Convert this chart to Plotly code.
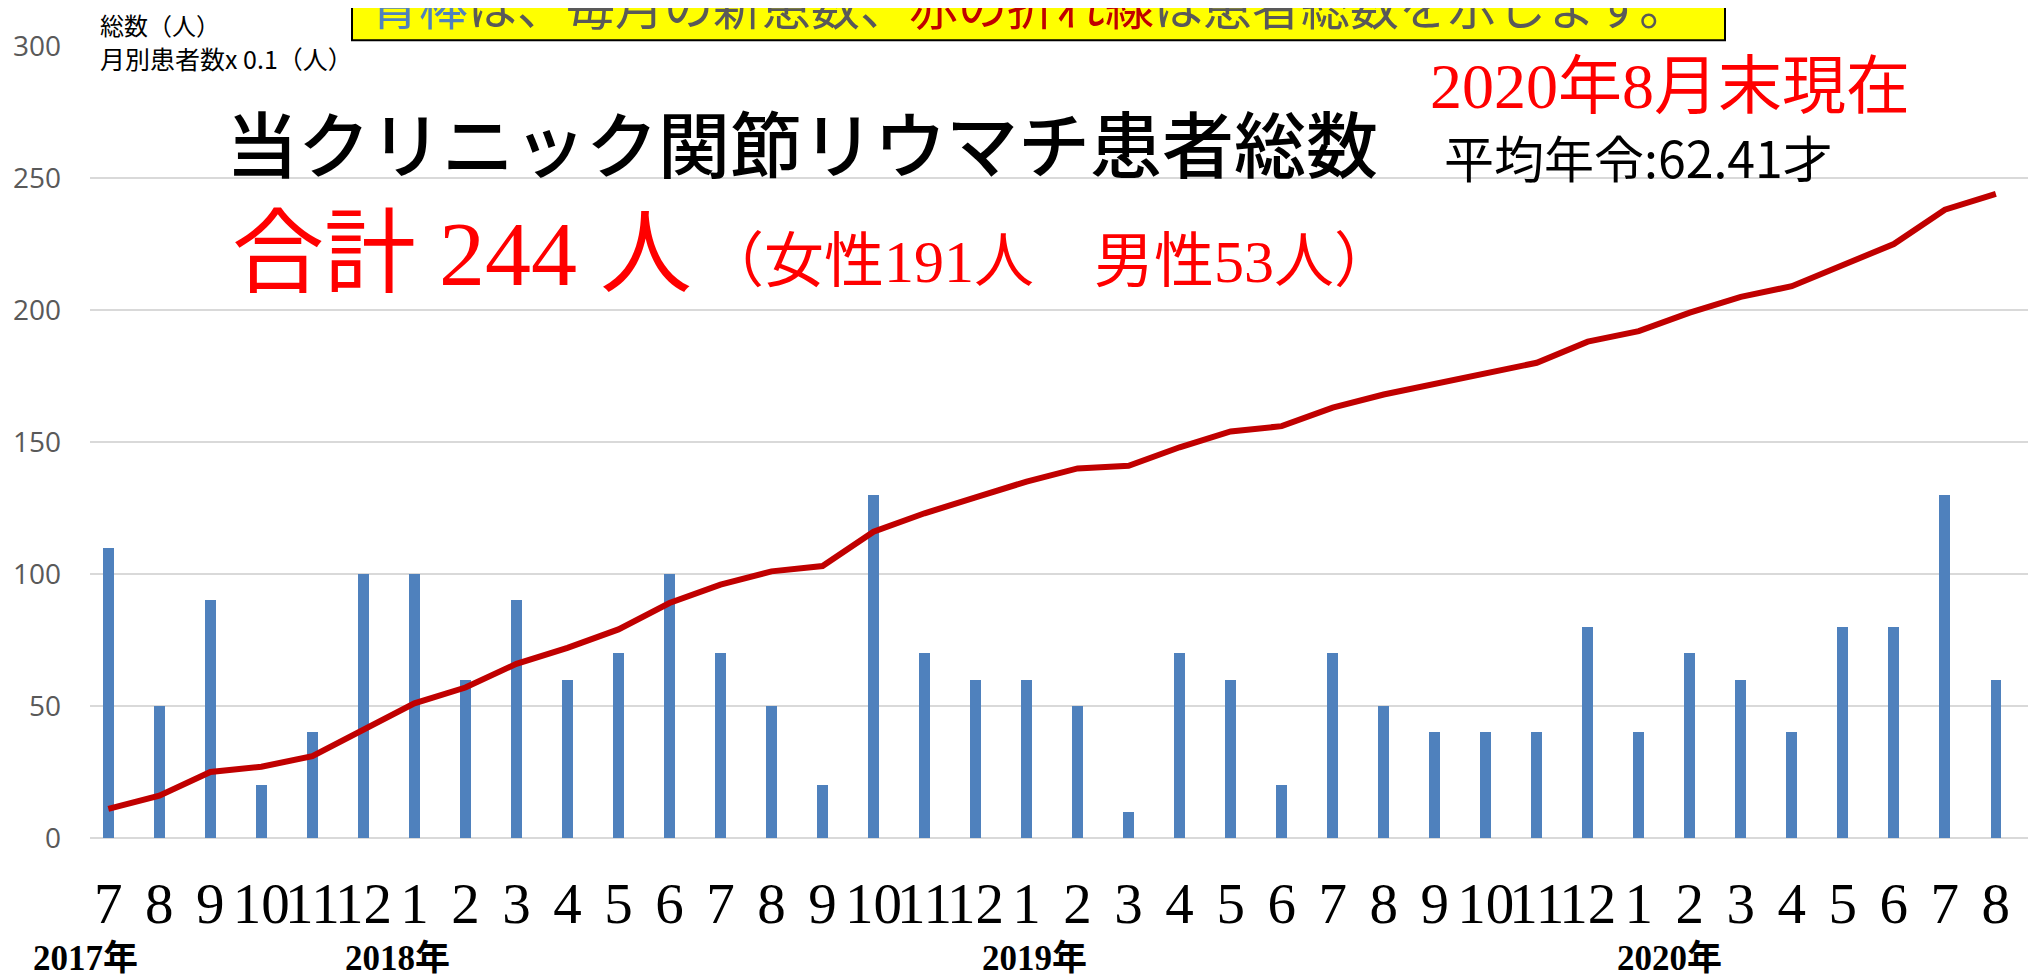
import plotly.graph_objects as go

# ---- data ----
months = ["7", "8", "9", "10", "11", "12",
          "1", "2", "3", "4", "5", "6", "7", "8", "9", "10", "11", "12",
          "1", "2", "3", "4", "5", "6", "7", "8", "9", "10", "11", "12",
          "1", "2", "3", "4", "5", "6", "7", "8"]
monthly_x10 = [110, 50, 90, 20, 40, 100,
               100, 60, 90, 60, 70, 100, 70, 50, 20, 130, 70, 60,
               60, 50, 10, 70, 60, 20, 70, 50, 40, 40, 40, 80,
               40, 70, 60, 40, 80, 80, 130, 60]
total_patients = [11, 16, 25, 27, 31, 41,
                  51, 57, 66, 72, 79, 89, 96, 101, 103, 116, 123, 129,
                  135, 140, 141, 148, 154, 156, 163, 168, 172, 176, 180, 188,
                  192, 199, 205, 209, 217, 225, 238, 244]
years = ["2017年", "2018年", "2019年", "2020年"]
y_ticks = [0, 50, 100, 150, 200, 250, 300]

idx = list(range(len(months)))

# ---- page geometry (page pixels; the html body adds an 8px offset) ----
OFF = 8
W, H = 2044, 979
L, R = 90 - OFF, 2028 - OFF
T, B = 45.7 - OFF, 837.7 - OFF


def px(x):
    return (x - OFF - L) / (R - L)


def py(y):
    return (B - (y - OFF)) / (B - T)


fig = go.Figure()
fig.add_bar(x=idx, y=monthly_x10, width=0.21,
            marker=dict(color="#4F81BD", line=dict(width=0)),
            hoverinfo="skip")
fig.add_scatter(x=idx, y=total_patients, mode="lines",
                line=dict(color="#C00000", width=6), hoverinfo="skip")

serif_cjk = "Liberation Serif, Noto Sans CJK JP"
sans_cjk = "Noto Sans CJK JP"

ann = []


def add_text(text, x, y, size, color, family, xanchor="left", yanchor="middle",
             weight="normal"):
    ann.append(dict(text=text, x=px(x), y=py(y), xref="paper", yref="paper",
                    xanchor=xanchor, yanchor=yanchor, showarrow=False,
                    font=dict(size=size, color=color, family=family,
                              weight=weight)))


add_text("総数（人）", 98, 24, 24, "#000000", sans_cjk)
add_text("月別患者数x 0.1（人）", 98, 58, 25, "#000000", sans_cjk)
add_text("当クリニック関節リウマチ患者総数", 224, 140, 72, "#000000", sans_cjk,
         weight=500)
add_text("合計 244 人", 230, 254, 92, "#FF0000", serif_cjk)
add_text("（女性191人　男性53人）", 702, 262, 60, "#FF0000", serif_cjk)
add_text("2020年8月末現在", 1428, 86, 64, "#FF0000", serif_cjk)
add_text("平均年令:62.41才", 1442, 156, 50, "#000000", sans_cjk)
add_text('<span style="color:#4F81BD">青棒</span>は、毎月の新患数、'
         '<span style="color:#C00000">赤の折れ線</span>は患者総数を示します。',
         368, 3, 49, "#595959", sans_cjk)

year_px = [85, 397, 1034, 1669]
for yt, xp in zip(years, year_px):
    add_text("<b>" + yt + "</b>", xp, 958, 35, "#000000", serif_cjk, xanchor="center")

fig.update_layout(
    width=W, height=H,
    margin=dict(l=L, r=W - R, t=T, b=H - B, pad=0, autoexpand=False),
    paper_bgcolor="white", plot_bgcolor="white",
    showlegend=False,
    bargap=0,
    annotations=ann,
    shapes=[dict(type="rect", xref="paper", yref="paper",
                 x0=px(352), x1=px(1725), y0=py(40), y1=py(-20),
                 fillcolor="#FFFF00", line=dict(color="#000000", width=2),
                 layer="below")],
    xaxis=dict(range=[-0.359, 37.63], tickmode="array", tickvals=idx,
               ticktext=months, showgrid=False, zeroline=False, showline=False,
               ticks="", ticklabelstandoff=27, tickangle=0, automargin=False,
               tickfont=dict(family="Liberation Serif", size=57, color="#000000")),
    yaxis=dict(range=[0, 300], tickmode="array", tickvals=y_ticks,
               showgrid=True, gridcolor="#D9D9D9", gridwidth=2,
               zeroline=True, zerolinecolor="#D9D9D9", zerolinewidth=2,
               showline=False, ticks="", ticklabelstandoff=28, automargin=False,
               tickfont=dict(family="Open Sans", size=28, color="#595959")),
)

fig.write_html("out.html")
